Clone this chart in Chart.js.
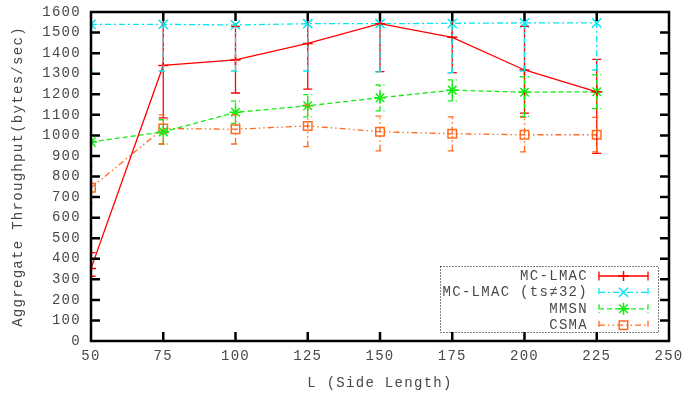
<!DOCTYPE html>
<html>
<head>
<meta charset="utf-8">
<script src="https://cdn.jsdelivr.net/npm/chart.js"></script>
<style>
  html, body { margin: 0; padding: 0; background: #fff; }
  #wrap { width: 688px; height: 396px; }
</style>
</head>
<body>
<div id="wrap"><canvas id="chart" width="688" height="396"></canvas></div>
<script>
// ---------- data ----------
const sideLength = [50, 75, 100, 125, 150, 175, 200, 225];

const lmac     = [352, 1340, 1367, 1447, 1543, 1477, 1318, 1212];
const lmacLow  = [315, 1085, 1206, 1225, 1310, 1305, 1108, 912];
const lmacHigh = [430, 1600, 1530, 1670, 1780, 1650, 1530, 1370];

const lmac32     = [1540, 1540, 1537, 1543, 1543, 1545, 1547, 1547];
const lmac32Low  = [1313, 1313, 1313, 1313, 1309, 1305, 1312, 1318];
const lmac32High = [1767, 1767, 1761, 1773, 1777, 1785, 1782, 1776];

const mmsn     = [968, 1017, 1112, 1144, 1183, 1220, 1210, 1212];
const mmsnLow  = [945, 958, 1058, 1090, 1119, 1168, 1092, 1130];
const mmsnHigh = [990, 1076, 1167, 1198, 1245, 1270, 1285, 1294];

const csma     = [745, 1033, 1030, 1046, 1018, 1008, 1003, 1003];
const csmaLow  = [670, 958, 958, 945, 925, 925, 920, 920];
const csmaHigh = [851, 1100, 1100, 1147, 1094, 1090, 1088, 1088];

const textFont = "'Liberation Mono', 'DejaVu Sans Mono', monospace";
const textColor = "#484848";

function pts(ys) {
  return sideLength.map((x, i) => ({ x: x, y: ys[i] }));
}

function series(label, ys, lo, hi, color, dash, style, radius) {
  return {
    label: label,
    data: pts(ys),
    low: lo,
    high: hi,
    borderColor: color,
    backgroundColor: "transparent",
    borderWidth: 1.3,
    borderDash: dash,
    pointStyle: style,
    pointRadius: radius,
    pointBorderWidth: 1.5,
    pointBorderColor: color,
    pointBackgroundColor: "transparent",
    tension: 0,
  };
}

// ---------- error bars through the scales ----------
const errorBars = {
  id: "errorBars",
  afterDatasetsDraw(chart) {
    const { ctx, chartArea, scales } = chart;
    ctx.save();
    ctx.beginPath();
    ctx.rect(chartArea.left, chartArea.top, chartArea.right - chartArea.left, chartArea.bottom - chartArea.top);
    ctx.clip();
    chart.data.datasets.forEach((ds) => {
      ctx.strokeStyle = ds.borderColor;
      ctx.lineWidth = 1.3;
      ctx.setLineDash(ds.borderDash);
      sideLength.forEach((x, i) => {
        const px = scales.x.getPixelForValue(x);
        const yl = scales.y.getPixelForValue(ds.low[i]);
        const yh = scales.y.getPixelForValue(ds.high[i]);
        ctx.beginPath();
        ctx.moveTo(px, yl);
        ctx.lineTo(px, yh);
        ctx.moveTo(px - 4.5, yl);
        ctx.lineTo(px + 4.5, yl);
        ctx.moveTo(px - 4.5, yh);
        ctx.lineTo(px + 4.5, yh);
        ctx.stroke();
      });
    });
    ctx.restore();
  },
};

// ---------- gnuplot style frame, inward ticks and key ----------
const frame = {
  id: "frame",
  beforeDraw(chart) {
    chart.ctx.letterSpacing = "1.3px";
  },
  afterDraw(chart) {
    const { ctx, chartArea: a, scales } = chart;
    ctx.save();
    ctx.strokeStyle = "#000";
    ctx.lineWidth = 2.5;
    ctx.setLineDash([]);
    ctx.strokeRect(a.left, a.top, a.right - a.left, a.bottom - a.top);
    ctx.beginPath();
    for (let v = 100; v < 1600; v += 100) {
      const py = scales.y.getPixelForValue(v);
      ctx.moveTo(a.left, py);
      ctx.lineTo(a.left + 9, py);
      ctx.moveTo(a.right, py);
      ctx.lineTo(a.right - 9, py);
    }
    for (let v = 75; v < 250; v += 25) {
      const px = scales.x.getPixelForValue(v);
      ctx.moveTo(px, a.bottom);
      ctx.lineTo(px, a.bottom - 9);
      ctx.moveTo(px, a.top);
      ctx.lineTo(px, a.top + 9);
    }
    ctx.stroke();

    // key box
    const bx = 440, by = 266, bw = 218, bh = 66;
    ctx.fillStyle = "#fff";
    ctx.fillRect(bx, by, bw, bh);
    ctx.lineWidth = 1;
    ctx.setLineDash([1, 2]);
    ctx.strokeRect(bx + 0.5, by + 0.5, bw, bh);

    ctx.font = "14px " + textFont;
    ctx.textAlign = "right";
    ctx.textBaseline = "middle";
    chart.data.datasets.forEach((ds, i) => {
      const ry = 276 + i * 16.4;
      ctx.fillStyle = textColor;
      ctx.fillText(ds.label, 588, ry);
      ctx.strokeStyle = ds.borderColor;
      ctx.lineWidth = 1.3;
      ctx.setLineDash(ds.borderDash);
      ctx.beginPath();
      ctx.moveTo(599, ry);
      ctx.lineTo(648, ry);
      ctx.moveTo(599, ry - 4.5);
      ctx.lineTo(599, ry + 4.5);
      ctx.moveTo(648, ry - 4.5);
      ctx.lineTo(648, ry + 4.5);
      ctx.stroke();
      ctx.setLineDash([]);
      ctx.lineWidth = 1.5;
      ctx.fillStyle = "rgba(0,0,0,0)";
      Chart.helpers.drawPoint(ctx, { pointStyle: ds.pointStyle, radius: ds.pointRadius, rotation: 0, borderWidth: 1.5 }, 623.5, ry);
    });
    ctx.restore();
  },
};

new Chart(document.getElementById("chart"), {
  type: "line",
  data: {
    datasets: [
      series("MC-LMAC", lmac, lmacLow, lmacHigh, "#ff0000", [], "cross", 5),
      series("MC-LMAC (ts\u226032)", lmac32, lmac32Low, lmac32High, "#00e8f0", [6, 3, 2, 3], "crossRot", 6.5),
      series("MMSN", mmsn, mmsnLow, mmsnHigh, "#11ee11", [5, 3], "star", 6),
      series("CSMA", csma, csmaLow, csmaHigh, "#ff6a1f", [6, 3, 1.5, 3, 1.5, 3], "rect", 6),
    ],
  },
  options: {
    responsive: false,
    animation: false,
    events: [],
    layout: { padding: { top: 12, right: 19, bottom: 0, left: 0 } },
    plugins: {
      legend: { display: false },
      tooltip: { enabled: false },
    },
    scales: {
      x: {
        type: "linear",
        min: 50,
        max: 250,
        grid: { display: false, drawTicks: false, tickLength: 0 },
        border: { display: false },
        ticks: { stepSize: 25, padding: 7, color: textColor, font: { family: textFont, size: 14 }, maxRotation: 0,
                 callback: (v) => String(v) },
        title: { display: true, text: "L (Side Length)", color: textColor, font: { family: textFont, size: 14 }, padding: { top: 4, bottom: 4.5 } },
        afterFit(s) { s.height = 55; s.paddingLeft = 0; s.paddingRight = 0; },
      },
      y: {
        min: 0,
        max: 1600,
        grid: { display: false, drawTicks: false, tickLength: 0 },
        border: { display: false },
        ticks: { stepSize: 100, padding: 10, color: textColor, font: { family: textFont, size: 14 },
                 callback: (v) => String(v) },
        title: { display: true, text: "Aggregate Throughput(bytes/sec)", color: textColor, font: { family: textFont, size: 14 }, padding: { top: 10, bottom: 4 } },
        afterFit(s) { s.width = 91; s.paddingTop = 0; s.paddingBottom = 0; },
      },
    },
  },
  plugins: [errorBars, frame],
});
</script>
</body>
</html>
